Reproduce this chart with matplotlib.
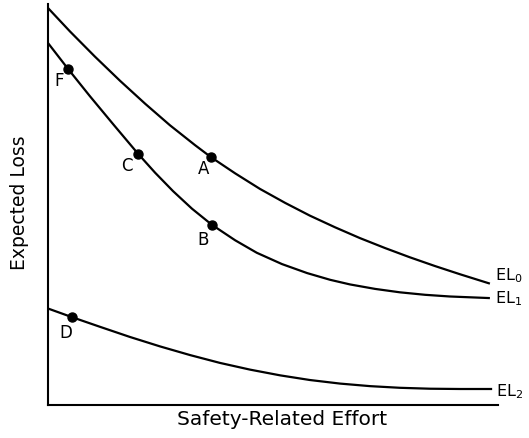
import matplotlib
matplotlib.use("Agg")
import matplotlib.pyplot as plt

# Safety-related effort (arbitrary units, 0-100) and expected loss (0-100)
el0_x = [0, 4.9, 10.4, 16.0, 21.6, 27.1, 32.7, 36.2, 41.6, 47.1, 52.7, 58.2,
         63.8, 69.3, 74.9, 80.4, 86.0, 91.6, 98.2]
el0_y = [99.0, 93.14, 86.91, 80.86, 75.12, 69.76, 64.78, 61.82, 57.76, 53.89,
         50.40, 47.22, 44.31, 41.63, 39.14, 36.84, 34.65, 32.59, 30.27]

el1_x = [0, 4.4, 9.3, 14.7, 20.0, 23.8, 27.8, 32.0, 36.4, 41.6, 46.4, 52.0,
         57.6, 62.7, 67.1, 72.7, 78.2, 83.8, 89.3, 98.2]
el1_y = [90.27, 83.89, 77.03, 69.73, 62.67, 57.93, 53.32, 48.95, 44.96, 41.07,
         37.96, 35.14, 32.89, 31.22, 30.07, 28.95, 28.10, 27.48, 27.06, 26.66]

el2_x = [0, 5.3, 11.6, 18.2, 24.9, 31.6, 38.2, 44.9, 51.6, 58.2, 64.9, 71.6,
         78.2, 84.9, 91.6, 98.7]
el2_y = [24.06, 21.92, 19.48, 16.97, 14.61, 12.44, 10.50, 8.82, 7.39, 6.23,
         5.34, 4.70, 4.29, 4.06, 3.99, 3.99]

curve_labels = ["EL$_0$", "EL$_1$", "EL$_2$"]

point_names = ["F", "C", "A", "B", "D"]
point_x = [4.4, 20.0, 36.2, 36.4, 5.3]
point_y = [83.89, 62.67, 61.82, 44.96, 21.92]

W, H = 529, 439
fig = plt.figure(figsize=(W / 100, H / 100), dpi=100)
ax = fig.add_axes([48 / W, 33 / H, 450 / W, 401 / H])

lw = 1.6
for xs, ys in [(el0_x, el0_y), (el1_x, el1_y), (el2_x, el2_y)]:
    ax.plot(xs, ys, color="black", lw=lw, solid_capstyle="butt",
            solid_joinstyle="round")

ax.plot(point_x, point_y, "o", color="black", ms=6.5)

# point labels (offsets in points)
offsets = {"F": (-6, -8.5), "C": (-8, -8), "A": (-5, -7.5), "B": (-6, -10), "D": (-4, -11)}
for n, x, y in zip(point_names, point_x, point_y):
    dx, dy = offsets[n]
    ax.annotate(n, (x, y), xytext=(dx, dy), textcoords="offset points",
                ha="center", va="center", fontsize=12)

# curve end labels
label_offsets = [(4, 6.5), (4, 0), (3, -1)]
for lab, xs, ys, off in zip(curve_labels, [el0_x, el1_x, el2_x],
                            [el0_y, el1_y, el2_y], label_offsets):
    ax.annotate(lab, (xs[-1], ys[-1]), xytext=off, textcoords="offset points",
                ha="left", va="center", fontsize=11.5, annotation_clip=False)

ax.set_xlim(0, 100)
ax.set_ylim(0, 100)
for s in ["top", "right"]:
    ax.spines[s].set_visible(False)
for s in ["left", "bottom"]:
    ax.spines[s].set_linewidth(1.5)
ax.set_xticks([])
ax.set_yticks([])

fig.text(282 / W, 1 - 420 / H, "Safety-Related Effort", ha="center", va="center", fontsize=14.5)
fig.text(20 / W, 1 - 203 / H, "Expected Loss", ha="center", va="center", rotation=90, fontsize=13.5)

fig.savefig("out.png", dpi=100)
